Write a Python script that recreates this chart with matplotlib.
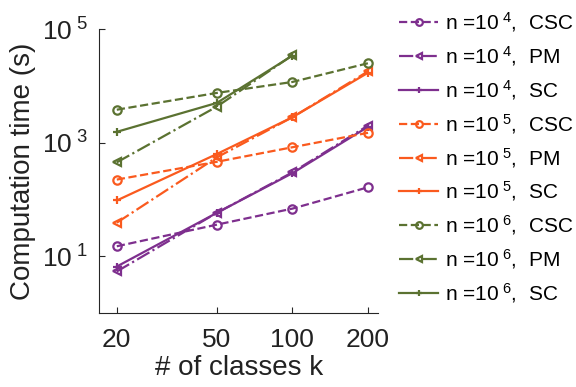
import numpy as np
import matplotlib
matplotlib.use('Agg')
import matplotlib.pyplot as plt

plt.rcParams['font.family'] = ['Liberation Sans', 'DejaVu Sans']
plt.rcParams['mathtext.fontset'] = 'custom'
plt.rcParams['mathtext.rm'] = 'Liberation Sans'
plt.rcParams['mathtext.it'] = 'Liberation Sans'

# number of classes
k = [20, 50, 100, 200]
k_big = [20, 50, 100]

# computation time (s)
csc_1e4 = [15, 36, 69, 164]
pm_1e4 = [5.4, 58, 300, 2000]
sc_1e4 = [6.6, 58, 290, 1900]

csc_1e5 = [224, 460, 830, 1490]
pm_1e5 = [39, 550, 2800, 18000]
sc_1e5 = [96, 630, 2800, 17000]

csc_1e6 = [3800, 7500, 11700, 25000]
pm_1e6 = [450, 4300, 34500]
sc_1e6 = [1550, 5000, 34000]

purple = '#7E2F8E'
orange = '#FA5A1E'
green = '#5B7231'

fig = plt.figure(figsize=(5.76, 3.87), dpi=100)
ax = fig.add_axes([0.172, 0.191, 0.485, 0.734])

series = [
    (k, csc_1e4, purple, '--', 'o', 4, 'CSC'),
    (k, pm_1e4, purple, '-.', '<', 4, 'PM'),
    (k, sc_1e4, purple, '-', '+', 4, 'SC'),
    (k, csc_1e5, orange, '--', 'o', 5, 'CSC'),
    (k, pm_1e5, orange, '-.', '<', 5, 'PM'),
    (k, sc_1e5, orange, '-', '+', 5, 'SC'),
    (k, csc_1e6, green, '--', 'o', 6, 'CSC'),
    (k_big, pm_1e6, green, '-.', '<', 6, 'PM'),
    (k_big, sc_1e6, green, '-', '+', 6, 'SC'),
]

for x, y, c, ls, m, p, name in series:
    ax.plot(x, y, color=c, linestyle=ls, marker=m, markersize=6,
            markerfacecolor='none', markeredgewidth=1.6, linewidth=1.6,
            label='n =10$^{\\ %d}$,  %s' % (p, name))

ax.set_xscale('log')
ax.set_yscale('log')
ax.set_xlim(17, 220)
ax.set_ylim(1, 1e5)
ax.set_xticks(k)
ax.set_xticklabels([str(v) for v in k])
ax.set_yticks([1e1, 1e3, 1e5])
ax.set_yticklabels(['10$^{\\ 1}$', '10$^{\\ 3}$', '10$^{\\ 5}$'])
ax.minorticks_off()
ax.tick_params(direction='in', labelsize=19, length=4, colors='#262626',
               labelcolor='#222222')
ax.tick_params(axis='y', pad=8)
ax.tick_params(axis='x', pad=11)
for s in ['top', 'right']:
    ax.spines[s].set_visible(False)
for s in ['left', 'bottom']:
    ax.spines[s].set_color('#262626')

ax.set_xlabel('# of classes k', fontsize=20, color='#222222', labelpad=2)
ax.set_ylabel('Computation time (s)', fontsize=20, color='#222222', labelpad=4)

leg = ax.legend(loc='upper left', bbox_to_anchor=(1.0, 1.14), frameon=False,
                fontsize=15, handlelength=1.85, labelspacing=0.48,
                handletextpad=0.35, borderaxespad=0.6, markerscale=0.8)

fig.savefig('out.png', dpi=100)
